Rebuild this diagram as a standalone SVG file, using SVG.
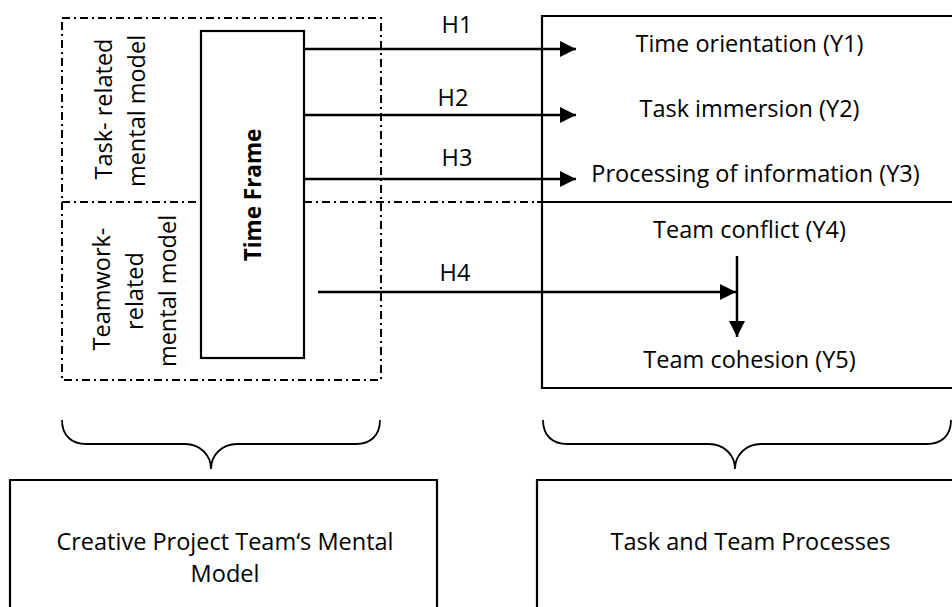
<svg xmlns="http://www.w3.org/2000/svg" width="952" height="607" viewBox="0 0 952 607">
<style>
text{font-family:"Open Sans","Noto Sans","Liberation Sans",sans-serif;font-size:23.5px;fill:#000}
.c{text-anchor:middle}
.b{font-weight:bold;font-size:22.5px}
.box{fill:none;stroke:#000;stroke-width:2.2}
.dd{fill:none;stroke:#000;stroke-width:2;stroke-dasharray:8 4 2 4}
.thin{fill:none;stroke:#000;stroke-width:1.8}
.arr{fill:none;stroke:#000;stroke-width:2.5}
.brace{fill:none;stroke:#000;stroke-width:1.8}
</style>
<defs>
<marker id="ah" markerWidth="17" markerHeight="16" refX="16" refY="8" orient="auto" markerUnits="userSpaceOnUse">
<path d="M0,0 L16,8 L0,16 Z" fill="#000"/>
</marker>
</defs>

<g id="mental-model-group">
<rect class="dd" x="62" y="18" width="319" height="362"/>
<path class="dd" d="M62,202 H200"/>
<path class="dd" d="M304,202 H537"/>
<text transform="translate(112,109) rotate(-90)" class="c">Task- related</text>
<text transform="translate(145,111) rotate(-90)" class="c">mental model</text>
<text transform="translate(110,289) rotate(-90)" class="c">Teamwork-</text>
<text transform="translate(143,291) rotate(-90)" class="c">related</text>
<text transform="translate(176,291) rotate(-90)" class="c">mental model</text>
</g>

<g id="time-frame">
<rect class="box" x="201" y="31" width="103" height="327"/>
<text transform="translate(261,195) rotate(-90)" class="c b">Time Frame</text>
</g>

<g id="processes">
<path class="box" d="M953,16 H542 V388 H953"/>
<path class="thin" d="M537,202 H953"/>
<text x="749.5" y="52" class="c">Time orientation (Y1)</text>
<text x="749.5" y="117" class="c">Task immersion (Y2)</text>
<text x="755.5" y="182" class="c">Processing of information (Y3)</text>
<text x="749.5" y="238" class="c">Team conflict (Y4)</text>
<text x="749.5" y="368" class="c">Team cohesion (Y5)</text>
</g>

<g id="connectors">
<path class="arr" d="M304,49 H576" marker-end="url(#ah)"/>
<path class="arr" d="M304,115 H576" marker-end="url(#ah)"/>
<path class="arr" d="M304,179 H576" marker-end="url(#ah)"/>
<path class="arr" d="M318,292 H736" marker-end="url(#ah)"/>
<path class="arr" d="M737,256 V337" marker-end="url(#ah)"/>
<text x="457" y="33" class="c">H1</text>
<text x="453" y="106" class="c">H2</text>
<text x="457" y="166" class="c">H3</text>
<text x="455" y="281" class="c">H4</text>
</g>

<g id="brace-left">
<path class="brace" d="M62,420 C62,436 72,444 86,444 H185 C200,444 211,455 211,469 C211,455 222,444 237,444 H356 C370,444 380,436 380,420"/>
</g>
<g id="brace-right">
<path class="brace" d="M543,420 C543,436 553,444 567,444 H709 C724,444 735,455 735,469 C735,455 746,444 761,444 H927 C941,444 951,436 951,420"/>
</g>

<g id="creative-team-box">
<path class="box" d="M10,610 V480 H437 V610"/>
<text x="225" y="550" class="c">Creative Project Team‘s Mental</text>
<text x="225" y="582" class="c">Model</text>
</g>

<g id="task-team-box">
<path class="box" d="M953,480 H537 V610"/>
<text x="750.5" y="550" class="c">Task and Team Processes</text>
</g>
</svg>
